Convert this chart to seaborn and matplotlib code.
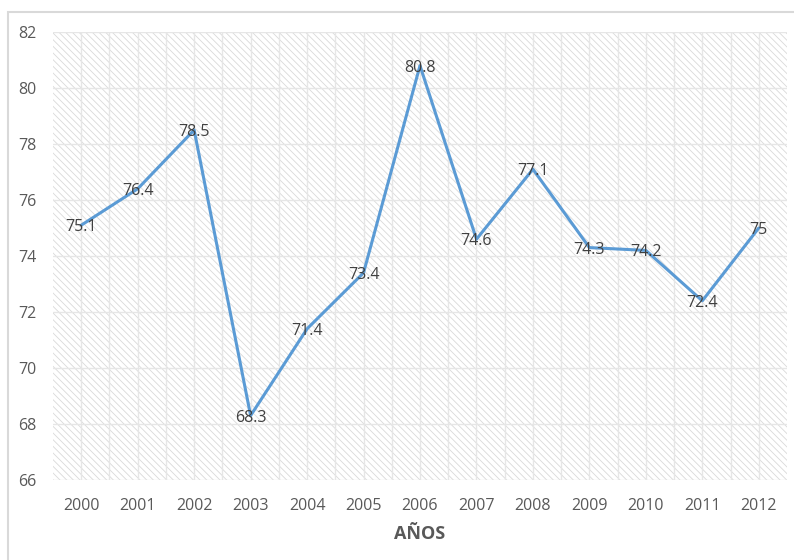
import matplotlib
matplotlib.use("Agg")
from matplotlib import pyplot as plt
from matplotlib.patches import Rectangle
import matplotlib.ticker as ticker
import seaborn as sns
import pandas as pd

years = [2000, 2001, 2002, 2003, 2004, 2005, 2006, 2007, 2008, 2009, 2010, 2011, 2012]
values = [75.1, 76.4, 78.5, 68.3, 71.4, 73.4, 80.8, 74.6, 77.1, 74.3, 74.2, 72.4, 75]
labels = ["75.1", "76.4", "78.5", "68.3", "71.4", "73.4", "80.8", "74.6", "77.1", "74.3", "74.2", "72.4", "75"]

df = pd.DataFrame({"year": years, "value": values})

sns.set_style("white")
plt.rcParams["font.family"] = ["Open Sans", "DejaVu Sans"]
plt.rcParams["hatch.linewidth"] = 0.6
plt.rcParams["hatch.color"] = "#d9d9d9"

fig = plt.figure(figsize=(7.94, 5.6), dpi=100)
ax = fig.add_axes([53 / 794, 1 - 480 / 560, 734 / 794, 448 / 560])

# hatched plot background
ax.patch.set_facecolor("white")
ax.patch.set_hatch("\\\\\\\\\\")
ax.patch.set_edgecolor("#d9d9d9")
ax.patch.set_linewidth(0)

sns.lineplot(data=df, x="year", y="value", color="#5B9BD5", linewidth=2.2, ax=ax)

for x, y, t in zip(years, values, labels):
    ax.text(x, y, t, ha="center", va="center_baseline", fontsize=11.5, color="#404040", zorder=5)

ax.set_xlim(1999.5, 2012.5)
ax.set_ylim(66, 82)
ax.set_xticks(years)
ax.set_xticklabels([str(y) for y in years])
ax.xaxis.set_minor_locator(ticker.FixedLocator([y + 0.5 for y in years[:-1]]))
ax.yaxis.set_major_locator(ticker.MultipleLocator(2))
ax.grid(which="major", color="#e6e6e6", linewidth=1)
ax.grid(which="minor", axis="x", color="#e6e6e6", linewidth=1)
ax.set_axisbelow(True)
for s in ax.spines.values():
    s.set_visible(False)
ax.tick_params(axis="both", which="both", length=0, labelsize=11.5, labelcolor="#595959")
ax.tick_params(axis="x", pad=13)
ax.tick_params(axis="y", pad=12)
ax.set_ylabel("")
ax.set_xlabel("AÑOS", fontsize=13, fontweight="bold", color="#595959", labelpad=8)

# outer chart border (runs off the right and bottom edges)
fig.patches.append(Rectangle((8 / 794, -0.05), 1.0, 1.05 - 12 / 560, transform=fig.transFigure,
                             fill=False, edgecolor="#d9d9d9", linewidth=1.5))

fig.savefig("out.png", dpi=100)
